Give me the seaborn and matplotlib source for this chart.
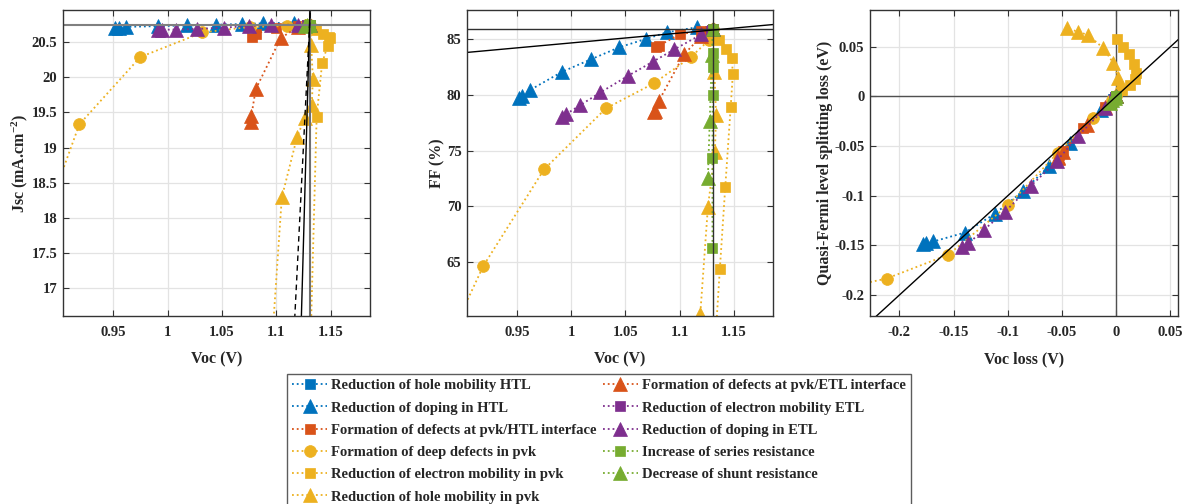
import matplotlib

matplotlib.use("Agg")
import matplotlib.pyplot as plt
import seaborn as sns
from matplotlib.ticker import FixedLocator, FuncFormatter

# ---- series labels (legend order, column first) ----
labels = [
    "Reduction of hole mobility HTL",
    "Reduction of doping in HTL",
    "Formation of defects at pvk/HTL interface",
    "Formation of deep defects in pvk",
    "Reduction of electron mobility in pvk",
    "Reduction of hole mobility in pvk",
    "Formation of defects at pvk/ETL interface",
    "Reduction of electron mobility ETL",
    "Reduction of doping in ETL",
    "Increase of series resistance",
    "Decrease of shunt resistance",
]

# ---- data: Voc (V), Jsc (mA/cm2), FF (%), Voc loss (V), QFLS loss (eV) ----
hmob_htl_voc = [1.1305, 1.1295, 1.128]
hmob_htl_jsc = [20.74, 20.745, 20.75]
hmob_htl_ff = [85.9, 85.85, 85.8]
hmob_htl_dv = [0.0, -0.001, -0.0025]
hmob_htl_dq = [0.0, -0.001, -0.0025]

dop_htl_voc = [0.952, 0.955, 0.962, 0.9915, 1.018, 1.0445, 1.0685, 1.088, 1.116, 1.1305]
dop_htl_jsc = [20.71, 20.71, 20.72, 20.73, 20.74, 20.75, 20.76, 20.77, 20.78, 20.74]
dop_htl_ff = [79.74, 79.9, 80.44, 82.08, 83.2, 84.3, 85.03, 85.63, 86.1, 85.9]
dop_htl_dv = [-0.1785, -0.1755, -0.1685, -0.1394, -0.1117, -0.0856, -0.0616, -0.0425, -0.0142, 0.0]
dop_htl_dq = [-0.149, -0.148, -0.146, -0.137, -0.118, -0.095, -0.070, -0.0466, -0.0135, 0.0]

def_htl_voc = [1.078, 1.081, 1.100, 1.120, 1.1305]
def_htl_jsc = [20.57, 20.62, 20.71, 20.73, 20.74]
def_htl_ff = [84.33, 84.45, 85.45, 85.8, 85.9]
def_htl_dv = [-0.0525, -0.0495, -0.0305, -0.0105, 0.0]
def_htl_dq = [-0.059, -0.055, -0.032, -0.011, 0.0]

deep_voc = [0.86, 0.919, 0.975, 1.032, 1.076, 1.110, 1.127, 1.1305]
deep_jsc = [16.8, 19.33, 20.29, 20.64, 20.72, 20.73, 20.75, 20.74]
deep_ff = [52.2, 64.6, 73.3, 78.79, 81.04, 83.38, 84.94, 85.9]
deep_dv = [-0.27, -0.2117, -0.1548, -0.0994, -0.054, -0.021, -0.004, 0.0]
deep_dq = [-0.197, -0.1833, -0.1593, -0.1093, -0.057, -0.0217, -0.004, 0.0]

emob_pvk_voc = [1.1305, 1.136, 1.143, 1.148, 1.149, 1.147, 1.142, 1.137, 1.131]
emob_pvk_jsc = [20.74, 20.68, 20.62, 20.58, 20.56, 20.45, 20.2, 19.44, 16.0]
emob_pvk_ff = [85.9, 84.95, 84.1, 83.3, 81.9, 78.9, 71.7, 64.3, 55.0]
emob_pvk_dv = [0.0, 0.0052, 0.013, 0.0175, 0.0185, 0.0166, 0.012, 0.0067, 0.0006]
emob_pvk_dq = [0.0, 0.006, 0.0117, 0.0174, 0.024, 0.0324, 0.0424, 0.050, 0.0574]

hmob_pvk_voc = [1.1305, 1.132, 1.1335, 1.1325, 1.126, 1.119, 1.105, 1.095]
hmob_pvk_jsc = [20.74, 20.46, 19.98, 19.6, 19.42, 19.15, 18.29, 16.0]
hmob_pvk_ff = [85.9, 82.1, 78.2, 74.9, 69.9, 60.3, 52.0, 45.0]
hmob_pvk_dv = [0.0, 0.003, 0.0021, -0.0025, -0.0117, -0.0256, -0.0348, -0.045]
hmob_pvk_dq = [0.0, 0.0084, 0.0184, 0.0334, 0.0484, 0.0617, 0.065, 0.0684]

def_etl_voc = [1.0765, 1.077, 1.081, 1.104, 1.120, 1.1305]
def_etl_jsc = [19.36, 19.45, 19.83, 20.56, 20.72, 20.74]
def_etl_ff = [78.45, 78.6, 79.5, 83.65, 85.3, 85.9]
def_etl_dv = [-0.054, -0.0535, -0.0495, -0.0265, -0.0105, 0.0]
def_etl_dq = [-0.062, -0.061, -0.056, -0.029, -0.011, 0.0]

emob_etl_voc = [1.1305, 1.1298, 1.1285]
emob_etl_jsc = [20.74, 20.74, 20.745]
emob_etl_ff = [85.9, 85.88, 85.8]
emob_etl_dv = [0.0, -0.0007, -0.002]
emob_etl_dq = [0.0, -0.0008, -0.0022]

dop_etl_voc = [0.9915, 0.995, 1.008, 1.027, 1.052, 1.075, 1.095, 1.120, 1.1305]
dop_etl_jsc = [20.68, 20.68, 20.68, 20.69, 20.71, 20.73, 20.75, 20.75, 20.74]
dop_etl_ff = [78.03, 78.25, 79.06, 80.23, 81.7, 82.98, 84.1, 85.45, 85.9]
dop_etl_dv = [-0.1424, -0.1363, -0.1218, -0.1025, -0.0787, -0.0547, -0.0354, -0.0102, 0.0]
dop_etl_dq = [-0.1516, -0.148, -0.134, -0.116, -0.090, -0.065, -0.040, -0.0117, 0.0]

rs_voc = [1.1305, 1.1305, 1.1304, 1.1303, 1.1302, 1.1302]
rs_jsc = [20.74, 20.74, 20.74, 20.74, 20.73, 20.72]
rs_ff = [85.9, 83.8, 82.5, 80.0, 74.3, 66.2]
rs_dv = [0.0, 0.0, -0.0001, -0.0002, -0.0003, -0.0003]
rs_dq = [0.0, 0.0, 0.0, -0.0001, -0.0001, -0.0002]

rsh_voc = [1.1305, 1.1297, 1.1277, 1.126]
rsh_jsc = [20.74, 20.74, 20.74, 20.73]
rsh_ff = [85.9, 83.6, 77.7, 72.5]
rsh_dv = [0.0, -0.0015, -0.0035, -0.0055]
rsh_dq = [0.0, -0.002, -0.004, -0.0067]

# reference device and guide lines
ref_voc = 1.1305
ref_jsc = 20.74
ref_ff = 85.9
jsc_solid_voc = [1.1219, 1.1313]
jsc_dashed_voc = [1.1150, 1.1320]
jsc_guide_jsc = [16.0, 21.2]
ff_guide_voc = [0.85, 1.25]
ff_guide_ff = [83.35, 86.91]
diag = [-0.25, 0.1]

# ---- styles ----
blue, red, yellow, purple, green = "#0072BD", "#D95319", "#EDB120", "#7E2F8E", "#77AC30"
colors = [blue, blue, red, yellow, yellow, yellow, red, purple, purple, green, green]
markers = ["s", "^", "s", "o", "s", "^", "^", "s", "^", "s", "^"]
sizes = {"s": 7, "^": 9.5, "o": 8.5}

voc_all = [hmob_htl_voc, dop_htl_voc, def_htl_voc, deep_voc, emob_pvk_voc, hmob_pvk_voc,
           def_etl_voc, emob_etl_voc, dop_etl_voc, rs_voc, rsh_voc]
jsc_all = [hmob_htl_jsc, dop_htl_jsc, def_htl_jsc, deep_jsc, emob_pvk_jsc, hmob_pvk_jsc,
           def_etl_jsc, emob_etl_jsc, dop_etl_jsc, rs_jsc, rsh_jsc]
ff_all = [hmob_htl_ff, dop_htl_ff, def_htl_ff, deep_ff, emob_pvk_ff, hmob_pvk_ff,
          def_etl_ff, emob_etl_ff, dop_etl_ff, rs_ff, rsh_ff]
dv_all = [hmob_htl_dv, dop_htl_dv, def_htl_dv, deep_dv, emob_pvk_dv, hmob_pvk_dv,
          def_etl_dv, emob_etl_dv, dop_etl_dv, rs_dv, rsh_dv]
dq_all = [hmob_htl_dq, dop_htl_dq, def_htl_dq, deep_dq, emob_pvk_dq, hmob_pvk_dq,
          def_etl_dq, emob_etl_dq, dop_etl_dq, rs_dq, rsh_dq]

sns.set_theme(style="whitegrid")
plt.rcParams["font.family"] = ["Liberation Serif", "DejaVu Serif"]
plt.rcParams["font.weight"] = "bold"
plt.rcParams["axes.labelweight"] = "bold"
plt.rcParams["mathtext.default"] = "regular"

W, H = 1189, 504
fig = plt.figure(figsize=(W / 100, H / 100), dpi=100)
fig.patch.set_facecolor("white")


def make_ax(left_px, right_px):
    return fig.add_axes([left_px / W, 1 - 316 / H, (right_px - left_px) / W, 306 / H])


ax1 = make_ax(63, 370)
ax2 = make_ax(467, 773)
ax3 = make_ax(870, 1178)

for xs, ys, ax in [(voc_all, jsc_all, ax1), (voc_all, ff_all, ax2), (dv_all, dq_all, ax3)]:
    for i in range(len(labels)):
        m = markers[i]
        sns.lineplot(
            x=xs[i], y=ys[i], ax=ax, sort=False, estimator=None,
            color=colors[i], marker=m, markersize=sizes[m], markeredgecolor=colors[i],
            markeredgewidth=0.5, linestyle=":", linewidth=1.3, label=labels[i],
        )

handles, leg_labels = ax1.get_legend_handles_labels()
for ax in (ax1, ax2, ax3):
    if ax.get_legend() is not None:
        ax.get_legend().remove()

# guide lines
ax1.axhline(ref_jsc, color="#808080", lw=1.5, zorder=5)
ax1.axvline(ref_voc, color="#707070", lw=1.5, zorder=5)
ax1.plot(jsc_solid_voc, jsc_guide_jsc, color="black", lw=1.0, zorder=6)
ax1.plot(jsc_dashed_voc, jsc_guide_jsc, color="black", lw=1.0, ls=(0, (4, 3)), zorder=6)
ax2.axhline(ref_ff, color="#303030", lw=1.0, zorder=5)
ax2.axvline(ref_voc, color="#303030", lw=1.0, zorder=5)
ax2.plot(ff_guide_voc, ff_guide_ff, color="black", lw=1.0, zorder=6)
ax3.axhline(0, color="#505050", lw=1.0, zorder=1)
ax3.axvline(0, color="#505050", lw=1.0, zorder=1)
ax3.plot(diag, diag, color="black", lw=1.0, zorder=6)

fmt = FuncFormatter(lambda v, p: f"{v:g}")
voc_ticks = [0.95, 1.0, 1.05, 1.1, 1.15]
ax1.set_xlim(0.904, 1.186)
ax1.set_ylim(16.6, 20.96)
ax1.xaxis.set_major_locator(FixedLocator(voc_ticks))
ax1.yaxis.set_major_locator(FixedLocator([17, 17.5, 18, 18.5, 19, 19.5, 20, 20.5]))
ax2.set_xlim(0.904, 1.186)
ax2.set_ylim(60.1, 87.65)
ax2.xaxis.set_major_locator(FixedLocator(voc_ticks))
ax2.yaxis.set_major_locator(FixedLocator([65, 70, 75, 80, 85]))
ax3.set_xlim(-0.227, 0.057)
ax3.set_ylim(-0.221, 0.087)
ax3.xaxis.set_major_locator(FixedLocator([-0.2, -0.15, -0.1, -0.05, 0, 0.05]))
ax3.yaxis.set_major_locator(FixedLocator([-0.2, -0.15, -0.1, -0.05, 0, 0.05]))

lab_kw = dict(fontsize=11.5)
ax1.set_xlabel("Voc (V)", labelpad=9, **lab_kw)
ax1.set_ylabel("Jsc (mA.cm$^{-2}$)", labelpad=1, **lab_kw)
ax2.set_xlabel("Voc (V)", labelpad=9, **lab_kw)
ax2.set_ylabel("FF (%)", labelpad=1, **lab_kw)
ax3.set_xlabel("Voc loss (V)", labelpad=9, **lab_kw)
ax3.set_ylabel("Quasi-Fermi level splitting loss (eV)", labelpad=1, **lab_kw)

for ax in (ax1, ax2, ax3):
    ax.set_facecolor("white")
    ax.xaxis.set_major_formatter(fmt)
    ax.yaxis.set_major_formatter(fmt)
    ax.grid(True, color="#e3e3e3", lw=0.9)
    ax.tick_params(direction="in", length=4, width=0.8, top=True, right=True,
                   bottom=True, left=True, labelsize=10.5, color="#333333")
    ax.tick_params(axis="x", pad=7)
    ax.tick_params(axis="y", pad=4)
    for sp in ax.spines.values():
        sp.set_color("#333333")
        sp.set_linewidth(1.0)
        sp.set_zorder(10)

fig.legend(
    handles, leg_labels, ncol=2, loc="upper left",
    bbox_to_anchor=(287 / W, 1 - 374 / H), frameon=True, fancybox=False,
    edgecolor="#333333", fontsize=10.5, handlelength=2.4, handletextpad=0.3,
    columnspacing=0.4, labelspacing=0.62, borderpad=0.35, borderaxespad=0,
)
fig.legends[0].get_frame().set_linewidth(1.0)

fig.savefig("out.png", dpi=100)
